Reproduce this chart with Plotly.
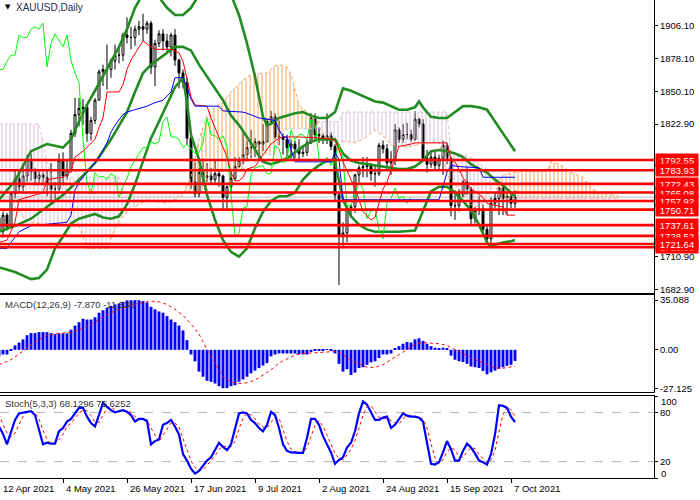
import plotly.graph_objects as go

# ---------------- data ----------------
IDX = list(range(130))

OPEN = [1744,1732,1746,1736,1764,1777,1770,1779,1793,1783,
        1777,1780,1778,1773,1768,1768,1792,1779,1784,1815,
        1831,1836,1837,1815,1826,1843,1867,1869,1869,1876,
        1881,1881,1898,1896,1896,1903,1905,1903,1908,1871,
        1891,1899,1893,1888,1898,1877,1866,1858,1811,1774,
        1764,1782,1778,1779,1776,1781,1779,1761,1770,1777,
        1787,1792,1797,1803,1803,1808,1806,1808,1825,1829,
        1812,1812,1810,1803,1806,1802,1798,1799,1807,1828,
        1814,1813,1810,1813,1804,1763,1728,1731,1752,1753,
        1780,1786,1787,1788,1781,1781,1805,1802,1790,1792,
        1818,1810,1814,1814,1810,1827,1823,1794,1789,1795,
        1788,1794,1805,1794,1754,1754,1763,1774,1768,1743,
        1750,1751,1734,1726,1756,1760,1769,1760,1762,1756]
HIGH = [1746,1749,1748,1766,1785,1784,1790,1797,1798,1786,
        1785,1782,1785,1790,1774,1798,1799,1792,1818,1845,
        1845,1844,1839,1829,1845,1869,1873,1890,1878,1890,
        1889,1900,1913,1905,1906,1910,1916,1910,1910,1894,
        1902,1903,1899,1900,1903,1878,1869,1862,1815,1791,
        1786,1794,1790,1786,1792,1785,1780,1771,1783,1795,
        1795,1815,1809,1818,1811,1809,1823,1828,1834,1832,
        1826,1815,1814,1810,1809,1810,1805,1810,1832,1832,
        1820,1815,1832,1816,1806,1765,1740,1754,1755,1781,
        1788,1795,1795,1790,1788,1807,1809,1806,1800,1823,
        1820,1823,1824,1818,1834,1828,1827,1801,1800,1801,
        1797,1809,1807,1795,1767,1768,1776,1787,1770,1753,
        1762,1755,1738,1761,1765,1770,1770,1764,1765,1767]
LOW = [1730,1727,1733,1735,1760,1765,1766,1774,1775,1771,
       1773,1771,1762,1756,1757,1766,1771,1776,1782,1812,
       1821,1822,1808,1809,1823,1843,1855,1852,1862,1869,
       1874,1876,1891,1886,1889,1898,1893,1899,1865,1855,
       1888,1885,1884,1880,1872,1853,1853,1805,1768,1761,
       1761,1771,1774,1772,1772,1770,1750,1751,1765,1775,
       1786,1789,1793,1794,1795,1792,1800,1807,1822,1810,
       1805,1797,1794,1793,1794,1792,1795,1796,1806,1810,
       1807,1806,1806,1801,1758,1687,1718,1723,1744,1748,
       1774,1778,1778,1775,1770,1779,1798,1784,1780,1788,
       1807,1807,1810,1808,1809,1820,1792,1782,1786,1785,
       1784,1780,1789,1745,1742,1749,1761,1763,1738,1739,
       1746,1728,1722,1722,1752,1746,1746,1746,1752,1752]
CLOSE = [1732,1746,1736,1764,1777,1770,1779,1793,1783,1777,
         1780,1778,1773,1768,1768,1792,1779,1784,1815,1831,
         1836,1837,1815,1826,1843,1867,1869,1869,1876,1881,
         1881,1898,1896,1896,1903,1905,1903,1908,1871,1891,
         1899,1893,1888,1898,1877,1866,1858,1811,1774,1764,
         1782,1778,1779,1776,1781,1779,1761,1770,1777,1787,
         1792,1797,1803,1803,1808,1806,1808,1825,1829,1812,
         1812,1810,1803,1806,1802,1798,1799,1807,1828,1814,
         1813,1810,1813,1804,1763,1728,1731,1752,1753,1780,
         1786,1787,1788,1781,1781,1805,1802,1790,1792,1818,
         1810,1814,1814,1810,1827,1823,1794,1789,1795,1788,
         1794,1805,1794,1754,1754,1763,1774,1768,1743,1750,
         1751,1734,1726,1756,1760,1769,1760,1762,1756,1761]

# Bollinger bands (read at sample bars)
UB_X = [0,4,8,12,16,18,20,22,24,26,28,30,32,34,36,38,40,42,44,46,48,50,52,54,56,58,60,62,64,66,67,68,70,72,74,76,78,80,82,84,85,86,88,90,92,94,96,98,100,102,104,105,106,108,110,112,114,116,118,120,122,124,126,128,129]
UB = [1759,1775,1800,1806,1803,1810,1825,1839,1851,1863,1876,1888,1903,1921,1933,1933,1930,1921,1915,1915,1921,1932,1941,1945,1942,1932,1915,1891,1863,1829,1822,1823,1828,1830,1832,1833,1830,1828,1828,1833,1843,1853,1851,1848,1845,1842,1841,1838,1835,1835,1837,1842,1837,1829,1828,1828,1833,1838,1838,1837,1835,1825,1815,1804,1800]
MB_X = [0,4,8,12,16,20,24,28,32,34,36,38,40,42,44,46,48,50,52,54,56,58,60,62,64,66,68,70,72,74,76,78,80,82,84,86,88,90,92,94,96,98,100,102,104,106,108,110,112,114,116,118,120,122,124,126,128,129]
MB = [1732,1737,1743,1753,1763,1776,1790,1810,1833,1850,1866,1873,1878,1883,1888,1888,1885,1873,1863,1853,1843,1830,1822,1812,1801,1791,1789,1791,1794,1799,1804,1808,1810,1810,1810,1798,1792,1790,1789,1788,1787,1786,1785,1785,1787,1792,1800,1801,1800,1798,1795,1789,1785,1782,1776,1771,1765,1762]
LB_X = [0,4,8,10,12,14,16,18,20,22,24,26,28,30,32,34,36,38,40,42,44,46,47,48,50,52,54,56,58,60,62,64,66,68,70,72,74,76,78,80,82,84,86,88,90,92,94,96,100,104,106,108,110,112,114,116,118,120,122,123,124,126,128,129]
LB = [1702,1698,1692,1693,1700,1718,1728,1739,1743,1745,1747,1744,1743,1745,1755,1772,1791,1811,1825,1839,1854,1862,1841,1814,1793,1763,1742,1725,1715,1711,1718,1735,1749,1758,1762,1762,1765,1776,1783,1788,1792,1791,1759,1745,1738,1734,1732,1732,1732,1733,1749,1766,1770,1770,1765,1758,1750,1738,1723,1719,1721,1723,1724,1725]

# Ichimoku lines
T_X = [0,2,4,5,8,11,12,16,18,19,21,24,25,26,27,30,31,32,33,35,36,38,39,43,45,46,47,48,49,52,53,54,56,57,58,59,60,61,62,64,66,68,70,71,75,81,83,84,85,86,88,89,91,93,94,95,96,97,98,99,100,103,104,112,113,114,115,116,117,118,119,121,122,123,126,127,129]
TENKAN = [1723,1725,1740,1759,1762,1765,1776,1778,1783,1795,1800,1810,1820,1828,1850,1850,1856,1869,1877,1888,1893,1888,1886,1886,1883,1876,1860,1846,1839,1838,1828,1820,1804,1795,1782,1775,1775,1778,1785,1787,1797,1806,1811,1812,1812,1811,1810,1809,1801,1791,1776,1769,1749,1742,1744,1755,1768,1774,1784,1793,1804,1806,1807,1807,1793,1791,1784,1778,1772,1768,1766,1761,1756,1755,1753,1746,1746]
K_X = [0,2,3,5,8,17,18,19,20,21,23,25,27,28,29,31,32,34,37,39,41,43,44,46,47,48,49,55,56,61,62,65,69,70,71,72,73,74,83,84,85,86,110,111,112,113,115,120,121,129]
KIJUN = [1718,1718,1723,1732,1737,1740,1746,1767,1774,1778,1786,1795,1807,1816,1822,1831,1833,1835,1838,1841,1843,1850,1862,1862,1854,1844,1838,1838,1834,1833,1832,1828,1826,1818,1812,1812,1801,1791,1791,1799,1793,1759,1759,1770,1782,1788,1787,1786,1778,1778]
CHIKOU_SHIFT = 26

CLOUD_X = [0,2,4,7,8,10,11,12,13,20,22,27,29,30,31,33,37,42,44,46,48,50,52,53,54,56,58,61,62,63,67,69,70,71,72,73,75,77,79,80,81,84,85,86,87,89,91,94,96,98,100,103,107,110,112,113,115,118,119,120,121,122,123,124,125,126,130,137,138,140,143,146,148,150,155]
SENKOU_A = [1767,1765,1753,1740,1740,1739,1738,1737,1737,1737,1718,1718,1734,1740,1745,1751,1759,1756,1759,1763,1778,1810,1830,1834,1837,1842,1850,1860,1862,1865,1866,1872,1873,1872,1871,1865,1839,1833,1828,1822,1812,1808,1808,1808,1808,1807,1810,1818,1813,1805,1804,1804,1807,1808,1780,1776,1768,1755,1754,1753,1757,1763,1768,1772,1776,1780,1783,1783,1791,1789,1782,1778,1769,1765,1762]
SENKOU_B = [1823,1823,1823,1823,1823,1823,1808,1790,1778,1778,1778,1778,1778,1778,1765,1765,1765,1765,1765,1765,1765,1765,1765,1783,1783,1783,1783,1783,1797,1797,1797,1797,1810,1818,1818,1819,1819,1819,1819,1825,1825,1825,1825,1833,1833,1833,1833,1833,1833,1833,1833,1833,1833,1833,1833,1798,1798,1795,1792,1790,1787,1785,1778,1775,1760,1760,1760,1760,1760,1760,1760,1760,1760,1760,1760]

LEVELS = [1792.55, 1783.93, 1772.43, 1765.08, 1757.92, 1750.71, 1737.61, 1728.52, 1718.93, 1721.64]
BID = 1761.3
PRICE_TICKS = [1906.10, 1878.10, 1850.10, 1822.90, 1710.90, 1682.90]
PRICE_TICK_TEXT = ["1906.10", "1878.10", "1850.10", "1822.90", "1710.90", "1682.90"]

MACD_HIST = [-4.6,-3.3,-3.3,-0.5,3.1,5.1,7.4,10.3,11.8,11.8,
             12.5,12.5,12.5,11.8,11.1,11.6,11.6,11.6,14.2,17.1,
             19.5,21.9,21.4,21.4,23.0,26.2,27.9,29.6,31.0,32.0,
             32.7,33.9,34.9,35.0,35.09,35.0,34.4,33.4,30.3,28.6,
             27.1,26.2,23.8,21.4,19.5,17.1,13.7,6.8,-3.3,-8.1,
             -15.4,-19.0,-21.9,-22.6,-23.8,-25.7,-27.12,-27.0,-25.7,-25.0,
             -22.6,-20.9,-19.0,-16.6,-14.7,-12.9,-11.1,-9.4,-4.6,-3.3,
             -2.6,-2.6,-2.6,-2.6,-2.6,-3.1,-3.3,-3.3,-1.5,-0.5,
             -0.5,-0.2,0.5,-0.5,-2.6,-9.9,-15.4,-13.7,-17.8,-16.1,
             -12.9,-12.3,-10.6,-8.9,-8.1,-5.8,-3.3,-3.3,-2.6,0.7,
             2.6,4.3,5.5,5.1,7.4,8.1,6.3,4.3,2.6,1.5,
             1.0,1.5,0.7,-4.1,-7.0,-8.1,-8.6,-9.9,-11.8,-12.3,
             -12.9,-14.9,-17.3,-15.9,-14.7,-13.4,-12.3,-11.3,-10.6,-7.87]
SIG_X = [0,3,6,9,12,15,18,21,24,27,30,33,36,38,40,42,44,46,48,50,52,54,56,58,60,62,64,66,68,70,72,74,76,78,80,82,84,86,87,88,90,92,94,96,98,100,102,104,106,108,110,112,114,116,118,120,122,124,126,128,129]
MACD_SIGNAL = [-10.6,-7.0,-1.0,5.5,10.3,11.6,12.3,15.2,19.5,24.8,
               28.6,31.5,33.4,34.4,33.9,32.0,28.6,24.3,18.2,11.1,
               0.2,-9.4,-19.0,-22.6,-23.8,-23.3,-21.4,-17.8,-14.2,-9.4,
               -6.3,-3.6,-2.6,-2.2,-1.7,-1.2,-1.2,-3.3,-5.8,-7.4,
               -9.9,-12.3,-12.5,-10.6,-7.0,-3.3,0.7,3.8,5.1,4.6,
               4.3,3.1,0.2,-2.8,-5.8,-8.1,-10.6,-12.9,-13.0,-12.2,-11.5]
MACD_TICKS = [35.088, 0.0, -27.125]
MACD_TICK_TEXT = ["35.088", "0.00", "-27.125"]

STOCH_K = [62.9,53.8,41.0,57.0,70.8,78.8,80.0,80.7,81.5,76.8,
           57.0,41.0,43.0,41.9,41.9,57.0,61.0,68.8,72.0,78.8,
           85.5,85.5,74.8,66.9,62.9,76.8,91.9,86.7,82.7,80.0,
           81.5,82.7,80.7,76.8,68.8,72.0,72.0,69.6,41.0,45.0,
           47.0,64.9,66.9,70.8,62.9,53.0,29.2,21.2,11.3,5.4,
           8.6,15.2,21.2,25.2,35.1,43.0,37.9,33.9,41.0,61.0,
           78.8,80.0,78.8,70.8,66.9,61.0,57.0,64.9,80.7,76.8,
           61.0,41.0,33.1,31.2,30.7,30.7,30.7,49.0,72.0,72.0,
           64.9,51.0,41.0,31.2,17.3,22.0,25.2,37.1,43.0,57.0,
           78.8,93.5,89.5,80.7,70.8,70.8,73.6,74.8,61.0,64.9,
           72.0,78.8,76.0,74.8,74.8,73.6,68.8,41.0,17.3,16.4,
           19.3,31.2,45.0,35.1,21.2,21.2,33.1,41.9,37.1,30.0,
           21.2,19.3,16.4,29.2,53.0,88.7,87.9,85.5,74.8,68.1]
STOCH_D = [78,65,55,50,55,65,75,80,81,80,
           72,58,47,42,42,47,53,63,67,73,
           79,83,82,76,68,68,77,85,87,83,
           81,81,82,80,75,72,71,71,61,52,
           44,52,60,67,67,62,48,35,21,13,
           9,10,15,21,27,35,39,38,38,45,
           60,73,79,77,72,66,62,61,68,74,
           73,60,45,35,32,31,31,37,50,64,
           70,63,52,41,30,24,22,28,35,46,
           60,76,87,88,81,74,72,73,70,67,
           66,72,76,76,75,74,72,61,42,25,
           18,22,32,37,34,26,25,32,37,36,
           29,24,19,22,33,57,77,87,83,75.6]
STOCH_LEVELS = [20, 80]

DATE_TICKS = [0, 16, 32, 48, 64, 80, 96, 112, 128]
DATE_LABELS = ["12 Apr 2021", "4 May 2021", "26 May 2021", "17 Jun 2021", "9 Jul 2021",
               "2 Aug 2021", "24 Aug 2021", "15 Sep 2021", "7 Oct 2021"]

# ---------------- layout geometry (pixels of the 700x500 page) ----------------
W, H = 700, 500
RIGHT = 654


def fx(p):
    return p / W


def fy(p):
    return 1 - p / H


FONT = "Liberation Sans"
GREEN = "#228B22"
X_RANGE = [0.25, 163.75]

fig = go.Figure()

# Ichimoku cloud (hatched)
upper = [max(a, b) for a, b in zip(SENKOU_A, SENKOU_B)]
for base, col in ((SENKOU_B, "#F4A460"), (SENKOU_A, "#D8BFD8")):
    fig.add_trace(go.Scatter(x=CLOUD_X, y=base, mode="lines", line=dict(width=0),
                             hoverinfo="skip", xaxis="x", yaxis="y"))
    fig.add_trace(go.Scatter(x=CLOUD_X, y=upper, mode="lines", line=dict(width=0),
                             fill="tonexty", fillcolor="rgba(255,255,255,0)",
                             fillpattern=dict(shape="|", fgcolor=col, fgopacity=0.85,
                                              bgcolor="rgba(255,255,255,0)",
                                              size=4, solidity=0.3),
                             hoverinfo="skip", xaxis="x", yaxis="y"))
fig.add_trace(go.Scatter(x=CLOUD_X, y=SENKOU_A, mode="lines",
                         line=dict(color="#F4A460", width=1, dash="dot"), xaxis="x", yaxis="y"))
fig.add_trace(go.Scatter(x=CLOUD_X, y=SENKOU_B, mode="lines",
                         line=dict(color="#D8BFD8", width=1, dash="dot"), xaxis="x", yaxis="y"))

# Bollinger bands
for xs, ys in ((UB_X, UB), (MB_X, MB), (LB_X, LB)):
    fig.add_trace(go.Scatter(x=xs, y=ys, mode="lines", line=dict(color=GREEN, width=2.6),
                             xaxis="x", yaxis="y"))

# Chikou, Tenkan, Kijun
fig.add_trace(go.Scatter(x=[i - CHIKOU_SHIFT for i in IDX], y=CLOSE, mode="lines",
                         line=dict(color="#00FF00", width=1), xaxis="x", yaxis="y"))
fig.add_trace(go.Scatter(x=T_X, y=TENKAN, mode="lines", line=dict(color="#FF0000", width=1),
                         xaxis="x", yaxis="y"))
fig.add_trace(go.Scatter(x=K_X, y=KIJUN, mode="lines", line=dict(color="#0000FF", width=1),
                         xaxis="x", yaxis="y"))

# Candles
fig.add_trace(go.Candlestick(x=IDX, open=OPEN, high=HIGH, low=LOW, close=CLOSE,
                             increasing=dict(line=dict(color="black", width=1), fillcolor="white"),
                             decreasing=dict(line=dict(color="black", width=1), fillcolor="black"),
                             whiskerwidth=0, xaxis="x", yaxis="y"))

# MACD
fig.add_trace(go.Bar(x=IDX, y=MACD_HIST, marker=dict(color="#0000FF", line=dict(width=0)),
                     width=0.72, xaxis="x2", yaxis="y2"))
fig.add_trace(go.Scatter(x=SIG_X, y=MACD_SIGNAL, mode="lines",
                         line=dict(color="#FF0000", width=1, dash="dot"), xaxis="x2", yaxis="y2"))

# Stochastic
fig.add_trace(go.Scatter(x=IDX, y=STOCH_D, mode="lines",
                         line=dict(color="#FF0000", width=1, dash="dot"), xaxis="x3", yaxis="y3"))
fig.add_trace(go.Scatter(x=IDX, y=STOCH_K, mode="lines",
                         line=dict(color="#0000FF", width=2.2), xaxis="x3", yaxis="y3"))

shapes = []
shapes.append(dict(type="line", xref="paper", yref="y", x0=0, x1=fx(RIGHT), y0=BID, y1=BID,
                   line=dict(color="#C0C0C0", width=1), layer="below"))
for lv in LEVELS:
    shapes.append(dict(type="line", xref="paper", yref="y", x0=0, x1=fx(RIGHT), y0=lv, y1=lv,
                       line=dict(color="#FF0000", width=2.6), layer="above"))
for lv in STOCH_LEVELS:
    shapes.append(dict(type="line", xref="paper", yref="y3", x0=0, x1=fx(RIGHT), y0=lv, y1=lv,
                       line=dict(color="#B4B4B4", width=1, dash="dash"), layer="below"))

annotations = []
for lv in LEVELS:
    annotations.append(dict(xref="paper", yref="y", x=fx(RIGHT + 1), y=lv, xanchor="left",
                            yanchor="middle", text=f"{lv:.2f}", showarrow=False,
                            font=dict(family=FONT, size=9.5, color="white"),
                            bgcolor="#FF0000", borderpad=1, width=40, height=10, align="center"))
for t, lab in zip(DATE_TICKS, DATE_LABELS):
    annotations.append(dict(xref="x3", yref="paper", x=max(t, X_RANGE[0]), y=fy(488),
                            xanchor="left", yanchor="middle", text=lab, showarrow=False, xshift=1,
                            font=dict(family=FONT, size=9.5, color="black")))
annotations += [
    dict(xref="paper", yref="paper", x=fx(3), y=fy(7), xanchor="left", yanchor="middle",
         text="\u25BC", showarrow=False, font=dict(family="DejaVu Sans", size=7, color="black")),
    dict(xref="paper", yref="paper", x=fx(14), y=fy(7), xanchor="left", yanchor="middle",
         text="XAUUSD,Daily", showarrow=False, font=dict(family=FONT, size=10, color="#1E2E4E")),
    dict(xref="paper", yref="paper", x=fx(3), y=fy(304), xanchor="left", yanchor="middle",
         text="MACD(12,26,9) -7.870 -11.538", showarrow=False,
         font=dict(family=FONT, size=9.5, color="#333333")),
    dict(xref="paper", yref="paper", x=fx(3), y=fy(403), xanchor="left", yanchor="middle",
         text="Stoch(5,3,3) 68.1296 75.6252", showarrow=False,
         font=dict(family=FONT, size=9.5, color="#333333")),
    dict(xref="paper", yref="paper", x=fx(RIGHT + 5), y=fy(401), xanchor="left", yanchor="middle",
         text="100", showarrow=False, font=dict(family=FONT, size=9.5, color="black")),
    dict(xref="paper", yref="paper", x=fx(RIGHT + 5), y=fy(473), xanchor="left", yanchor="middle",
         text="0", showarrow=False, font=dict(family=FONT, size=9.5, color="black")),
]

axis_common = dict(range=X_RANGE, showgrid=False, zeroline=False, showticklabels=False,
                   showline=True, linecolor="black", linewidth=1, fixedrange=True)
yfont = dict(family=FONT, size=9.5, color="black")
y_common = dict(side="right", showgrid=False, zeroline=False, showline=True, linecolor="black",
                linewidth=1, ticks="outside", ticklen=3, tickcolor="black", tickfont=yfont,
                automargin=False, fixedrange=True)

fig.update_layout(
    width=W, height=H, margin=dict(l=0, r=0, t=0, b=0),
    paper_bgcolor="white", plot_bgcolor="white", showlegend=False,
    barmode="overlay", hovermode=False,
    xaxis=dict(domain=[0, fx(RIGHT)], anchor="y", rangeslider=dict(visible=False),
               ticks="", mirror=False, **axis_common),
    xaxis2=dict(domain=[0, fx(RIGHT)], anchor="y2", matches="x", ticks="", mirror=True,
                **axis_common),
    xaxis3=dict(domain=[0, fx(RIGHT)], anchor="y3", matches="x", mirror=True,
                ticks="outside", ticklen=4, tickcolor="black", tickvals=DATE_TICKS, **axis_common),
    yaxis=dict(domain=[fy(293), 1], range=[1680.3, 1927.6], tickvals=PRICE_TICKS,
               ticktext=PRICE_TICK_TEXT, anchor="x", **y_common),
    yaxis2=dict(domain=[fy(392), fy(295)], range=[-29.8, 38.7], tickvals=MACD_TICKS,
                ticktext=MACD_TICK_TEXT, anchor="x2", **y_common),
    yaxis3=dict(domain=[fy(478), fy(396)], range=[0, 100], tickvals=[100, 80, 20, 0],
                ticktext=["", "80", "20", ""], anchor="x3", **y_common),
    shapes=shapes, annotations=annotations,
)

fig.write_html("out.html", config={"displayModeBar": False},
               post_script="document.body.style.margin='0px';document.body.style.overflow='hidden';")
